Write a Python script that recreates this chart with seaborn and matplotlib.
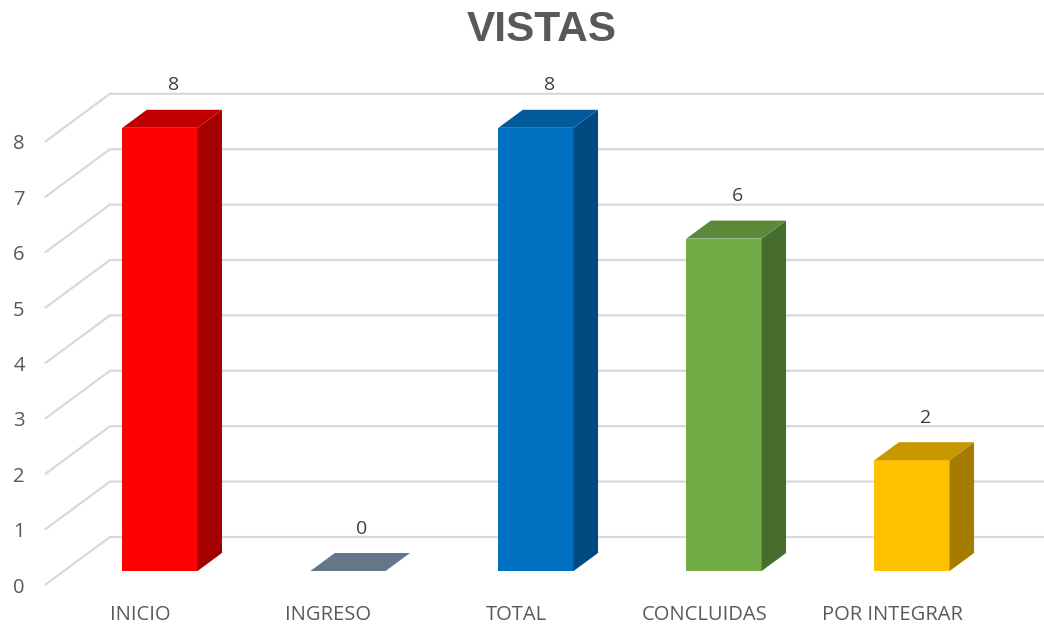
import numpy as np
import pandas as pd
import seaborn as sns
import matplotlib.pyplot as plt
from matplotlib.patches import Polygon

# data
categorias = ["INICIO", "INGRESO", "TOTAL", "CONCLUIDAS", "POR INTEGRAR"]
valores = [8, 0, 8, 6, 2]
y_ticks = [0, 1, 2, 3, 4, 5, 6, 7, 8]

# colores de cada cara (frente, lado, arriba)
c_frente = ["#FF0000", "#44546A", "#0070C0", "#70AD47", "#FFC000"]
c_lado = ["#A50000", "#333F50", "#004A80", "#476D2D", "#A67C00"]
c_arriba = ["#C00000", "#647687", "#005A9B", "#5A8A39", "#C89800"]

sns.set_theme(style="white")
plt.rcParams['font.family'] = ['Open Sans', 'DejaVu Sans']

df = pd.DataFrame({"cat": categorias, "val": valores})

fig = plt.figure(figsize=(10.44, 6.26), dpi=100)
ax = fig.add_axes([40 / 1044, 36 / 626, 1004 / 1044, 530 / 626])

sns.barplot(data=df, x="cat", y="val", hue="cat", palette=c_frente,
            width=0.4, legend=False, ax=ax, saturation=1, zorder=3,
            edgecolor="none", linewidth=0)

# profundidad 3d (en unidades de datos)
dx, dy = 0.13, 0.325
wx, wy = 0.346, 0.867   # pared del fondo

# lineas de cuadricula en perspectiva
for v in y_ticks:
    ax.plot([-0.612, -0.612 + wx, 4.8], [v - 0.253, v - 0.253 + wy, v - 0.253 + wy],
            color="#D9D9D9", lw=1.6, zorder=1, solid_capstyle="butt")

for i, p in enumerate(ax.patches):
    x0, w, h = p.get_x(), p.get_width(), p.get_height()
    if h > 0:
        lado = Polygon([(x0 + w, 0), (x0 + w + dx, dy), (x0 + w + dx, h + dy), (x0 + w, h)],
                       closed=True, facecolor=c_lado[i], edgecolor="none", zorder=3)
        ax.add_patch(lado)
    arriba = Polygon([(x0, h), (x0 + w, h), (x0 + w + dx, h + dy), (x0 + dx, h + dy)],
                     closed=True, facecolor=c_arriba[i], edgecolor="none", zorder=4)
    ax.add_patch(arriba)
    ax.annotate(str(valores[i]), (x0 + w / 2 + dx / 2, h + dy), xytext=(0.8, 17.5),
                textcoords="offset points", ha="center", va="center",
                fontsize=14, color="#404040")

ax.set_xlim(-0.638, 4.702)
ax.set_ylim(-0.343, 9.224)
ax.set_xticks(np.arange(len(categorias)) - 0.105)
ax.set_xticklabels(categorias)
ax.set_yticks(np.array(y_ticks) - 0.253)
ax.set_yticklabels([str(v) for v in y_ticks])
ax.tick_params(axis="x", length=0, pad=10.5, labelsize=14.5, labelcolor="#595959")
ax.tick_params(axis="y", length=0, pad=11, labelsize=14.5, labelcolor="#595959")
ax.set_xlabel("")
ax.set_ylabel("")
sns.despine(ax=ax, left=True, bottom=True)
ax.grid(False)

fig.text(542 / 1044, 1 - 30 / 626, "VISTAS", ha="center", va="center",
         fontsize=30.5, fontweight="bold", color="#595959", family="Liberation Sans")

fig.savefig("out.png", dpi=100)
